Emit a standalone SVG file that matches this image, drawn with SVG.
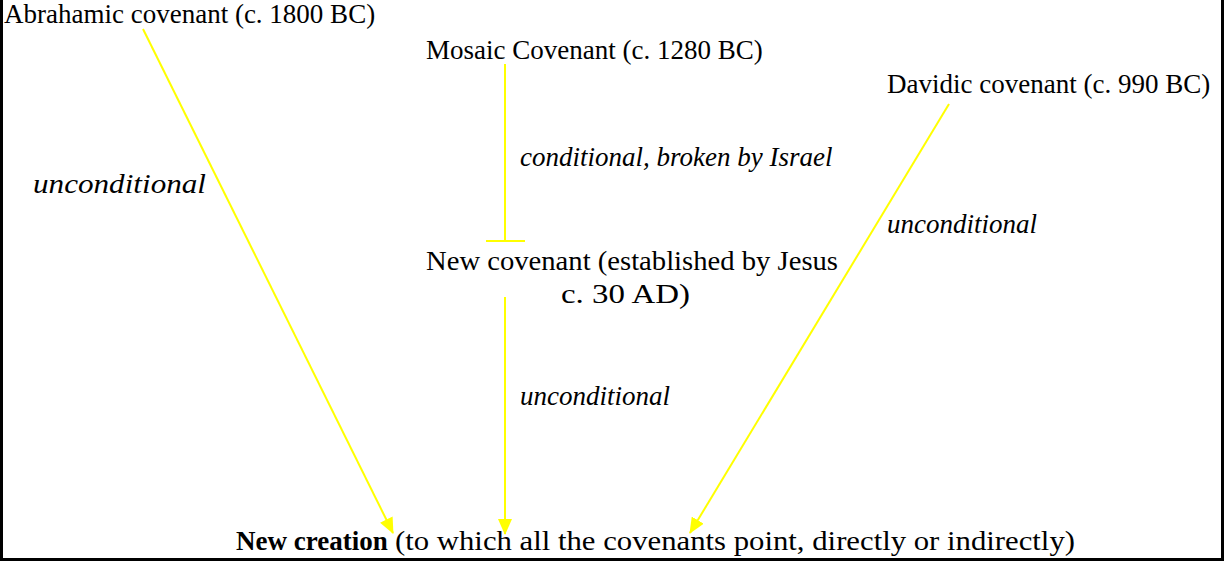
<svg xmlns="http://www.w3.org/2000/svg" width="1229" height="568" viewBox="0 0 1229 568">
<style>
.t{font-family:"Liberation Serif","Times New Roman",serif;font-size:27px;fill:#000}
.i{font-style:italic}
.c{stroke:#ffff00;stroke-width:2;fill:none}
</style>
<defs>
<marker id="ah" markerWidth="16" markerHeight="14" refX="15" refY="7" orient="auto" markerUnits="userSpaceOnUse">
<path d="M0,0 L16,7 L0,14 Z" fill="#ffff00"/>
</marker>
</defs>
<rect width="1229" height="568" fill="#fff"/>
<path d="M1.5,0 V559.5 H1222.5 V0" fill="none" stroke="#000" stroke-width="3"/>
<g id="connectors">
<line class="c" x1="143" y1="29" x2="393" y2="533" marker-end="url(#ah)"/>
<line class="c" x1="505" y1="64" x2="505" y2="241"/>
<line class="c" x1="486" y1="241" x2="525" y2="241"/>
<line class="c" x1="505" y1="297" x2="505" y2="534" marker-end="url(#ah)"/>
<line class="c" x1="949" y1="104" x2="690" y2="533" marker-end="url(#ah)"/>
<text class="t i" x="33" y="193" font-size="29" textLength="173" lengthAdjust="spacingAndGlyphs">unconditional</text>
<text class="t i" x="520" y="166">conditional, broken by Israel</text>
<text class="t i" x="520" y="405">unconditional</text>
<text class="t i" x="887" y="233">unconditional</text>
</g>
<g id="abrahamic"><text class="t" x="4" y="23">Abrahamic covenant (c. 1800 BC)</text></g>
<g id="mosaic"><text class="t" x="426" y="59">Mosaic Covenant (c. 1280 BC)</text></g>
<g id="davidic"><text class="t" x="887" y="93">Davidic covenant (c. 990 BC)</text></g>
<g id="new-covenant">
<text class="t" x="426" y="270" font-size="28" textLength="412" lengthAdjust="spacingAndGlyphs">New covenant (established by Jesus</text>
<text class="t" x="561" y="303" font-size="29" textLength="129" lengthAdjust="spacingAndGlyphs">c. 30 AD)</text>
</g>
<g id="new-creation">
<text class="t" x="236" y="550" font-weight="bold">New creation</text>
<text class="t" x="395" y="550" font-size="28" textLength="680" lengthAdjust="spacingAndGlyphs">(to which all the covenants point, directly or indirectly)</text>
</g>
</svg>
